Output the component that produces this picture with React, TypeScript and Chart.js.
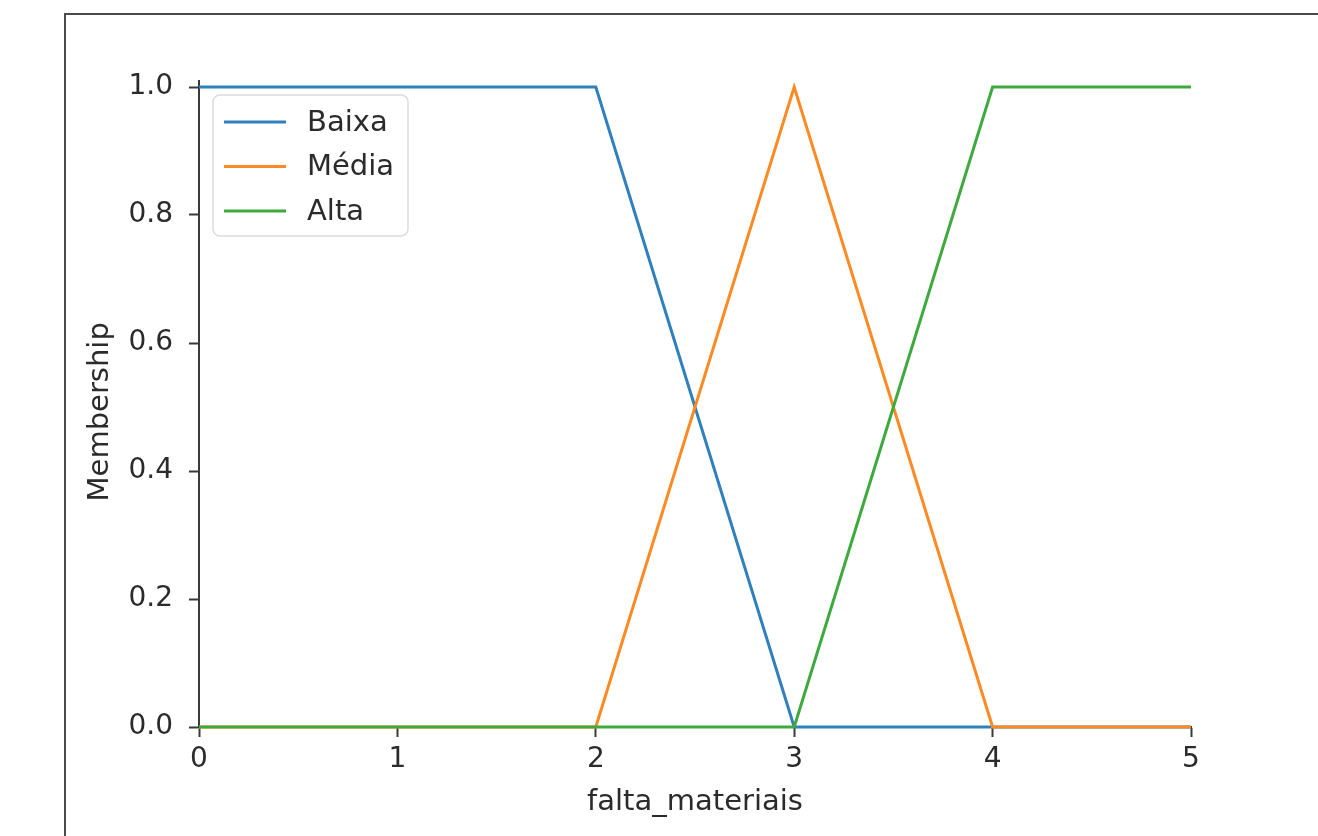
import React, { useEffect, useRef } from "react";
import { Chart, registerables } from "chart.js";

Chart.register(...registerables);

const seriesLabels = ["Baixa", "Média", "Alta"];
const seriesColors = ["#2f80bd", "#ff8a24", "#3eaa3e"];
const baixaX = [0, 2, 3, 5];
const baixaY = [1, 1, 0, 0];
const mediaX = [0, 2, 3, 4, 5];
const mediaY = [0, 0, 1, 0, 0];
const altaX = [0, 3, 4, 5];
const altaY = [0, 0, 1, 1];
const xTicks = [0, 1, 2, 3, 4, 5];
const yTicks = [0, 0.2, 0.4, 0.6, 0.8, 1.0];
const xTitle = "falta_materiais";
const yTitle = "Membership";

const FONT = "'DejaVu Sans', sans-serif";
const TEXT = "#2b2b2b";
const AXIS = "#3a3a3a";

const toPoints = (xs: number[], ys: number[]) => xs.map((x, i) => ({ x, y: ys[i] }));

const legendPlugin = {
  id: "mplLegend",
  afterDatasetsDraw(chart: any) {
    const { ctx, chartArea } = chart;
    const x0 = chartArea.left + 14;
    const y0 = chartArea.top + 14.4;
    const w = 195;
    const h = 141;
    ctx.save();
    ctx.beginPath();
    ctx.roundRect(x0, y0, w, h, 7);
    ctx.fillStyle = "rgba(255,255,255,0.85)";
    ctx.fill();
    ctx.lineWidth = 1.5;
    ctx.strokeStyle = "#dcdcdc";
    ctx.stroke();
    ctx.font = `29px ${FONT}`;
    ctx.textBaseline = "middle";
    ctx.textAlign = "left";
    seriesLabels.forEach((label, i) => {
      const y = y0 + 27 + i * 44.5;
      ctx.beginPath();
      ctx.moveTo(x0 + 11, y);
      ctx.lineTo(x0 + 73, y);
      ctx.strokeStyle = seriesColors[i];
      ctx.lineWidth = 3;
      ctx.stroke();
      ctx.fillStyle = TEXT;
      ctx.fillText(label, x0 + 94, y + 1);
    });
    ctx.restore();
  },
};

const yTitlePlugin = {
  id: "yTitle",
  afterDraw(chart: any) {
    const { ctx, chartArea } = chart;
    ctx.save();
    ctx.translate(chartArea.left - 99, (chartArea.top + chartArea.bottom) / 2 + 8);
    ctx.rotate(-Math.PI / 2);
    ctx.font = `29px ${FONT}`;
    ctx.fillStyle = TEXT;
    ctx.textAlign = "center";
    ctx.textBaseline = "middle";
    ctx.fillText(yTitle, 0, 0);
    ctx.restore();
  },
};

export default function App() {
  const ref = useRef<HTMLCanvasElement>(null);
  useEffect(() => {
    if (!ref.current) return;
    const series = [toPoints(baixaX, baixaY), toPoints(mediaX, mediaY), toPoints(altaX, altaY)];
    const chart = new Chart(ref.current, {
      type: "line",
      data: {
        datasets: series.map((d, i) => ({
          label: seriesLabels[i],
          data: d,
          borderColor: seriesColors[i],
          backgroundColor: seriesColors[i],
          borderWidth: 3,
          pointRadius: 0,
          tension: 0,
          fill: false,
          clip: 6,
          order: 3 - i,
        })),
      },
      options: {
        responsive: false,
        animation: false,
        devicePixelRatio: 1,
        layout: { padding: { left: 83, top: 80.6, right: 127, bottom: 16 } },
        plugins: { legend: { display: false }, tooltip: { enabled: false } },
        scales: {
          x: {
            type: "linear",
            min: 0,
            max: 5,
            afterFit: (s: any) => {
              s.height = 93;
            },
            afterBuildTicks: (s: any) => {
              s.ticks = xTicks.map((v) => ({ value: v }));
            },
            grid: {
              display: true,
              drawOnChartArea: false,
              drawTicks: true,
              tickLength: 10,
              tickWidth: 2,
              tickColor: AXIS,
            },
            border: { display: true, color: AXIS, width: 2 },
            ticks: {
              padding: 6,
              color: TEXT,
              font: { family: FONT, size: 28 },
              maxRotation: 0,
              callback: (v: any) => String(v),
            },
            title: {
              display: true,
              text: xTitle,
              color: TEXT,
              font: { family: FONT, size: 29 },
              padding: 0,
            },
          },
          y: {
            type: "linear",
            min: 0,
            max: 1.01,
            afterFit: (s: any) => {
              s.width = 116;
            },
            afterBuildTicks: (s: any) => {
              s.ticks = yTicks.map((v) => ({ value: v }));
            },
            grid: {
              display: true,
              drawOnChartArea: false,
              drawTicks: true,
              tickLength: 10,
              tickWidth: 2,
              tickColor: AXIS,
            },
            border: { display: true, color: AXIS, width: 2 },
            ticks: {
              padding: 16,
              color: TEXT,
              font: { family: FONT, size: 28 },
              callback: (v: any) => Number(v).toFixed(1),
            },
            title: { display: false },
          },
        },
      },
      plugins: [legendPlugin, yTitlePlugin],
    });
    return () => chart.destroy();
  }, []);

  return (
    <div style={{ position: "fixed", left: 0, top: 0, width: 1318, height: 836, background: "#fff", overflow: "hidden" }}>
      <div
        style={{
          position: "absolute",
          left: 64,
          top: 13,
          width: 1254,
          height: 823,
          borderTop: "2px solid #4a4a4a",
          borderLeft: "2px solid #4a4a4a",
          boxSizing: "border-box",
        }}
      />
      <canvas ref={ref} width={1318} height={836} style={{ position: "absolute", left: 0, top: 0, width: 1318, height: 836 }} />
    </div>
  );
}
